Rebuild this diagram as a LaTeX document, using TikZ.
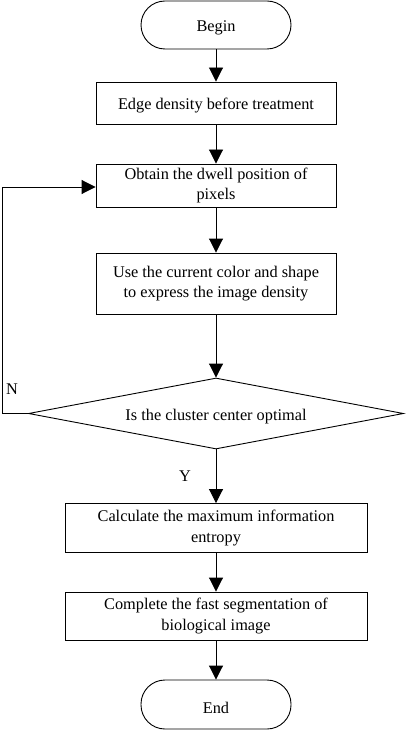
\documentclass[tikz,border=0pt]{standalone}
\usepackage{fontspec}
\setmainfont{Liberation Serif}
\usetikzlibrary{arrows.meta,shapes.geometric}
\begin{document}
\begin{tikzpicture}[x=1pt,y=-1pt,
  base/.style={draw=black,line width=0.9pt,align=center,inner sep=0pt,
    font=\fontsize{16.3}{20.5}\selectfont,
    execute at begin node={\rule{0pt}{17.5pt}}},
  term/.style={base,rounded corners=24pt,minimum width=150pt,minimum height=48pt},
  proc/.style={base,rectangle,minimum width=240pt},
  wproc/.style={base,rectangle,minimum width=302pt},
  dec/.style={base,diamond,shape aspect=5.28,minimum width=375pt,minimum height=71pt},
  arr/.style={line width=0.9pt,-{Triangle[width=14pt,length=14pt]}},
  lbl/.style={font=\fontsize{16.3}{20.5}\selectfont,inner sep=0pt}]
\useasboundingbox (0,0) rectangle (406,730);
\node[term] (begin) at (216,25) {Begin};
\node[proc,minimum height=42pt] (b1) at (216,103) {Edge density before treatment};
\node[proc,minimum height=43pt] (b2) at (216,185.5) {Obtain the dwell position of\\pixels};
\node[proc,minimum height=61pt] (b3) at (216,283.5) {Use the current color and shape\\to express the image density};
\node[dec] (d) at (216,413.5) {Is the cluster center optimal};
\node[wproc,minimum height=49pt] (b4) at (216,528) {Calculate the maximum information\\entropy};
\node[wproc,minimum height=48pt] (b5) at (216,616) {Complete the fast segmentation of\\biological image};
\node[term,minimum height=49pt] (end) at (216,704.5) {End};
\coordinate (c1) at (2,413.5);
\coordinate (c2) at (2,187);
\draw[arr] (begin) -- (b1);
\draw[arr] (b1) -- (b2);
\draw[arr] (b2) -- (b3);
\draw[arr] (b3) -- (d);
\draw[arr] (d) -- (b4);
\draw[arr] (b4) -- (b5);
\draw[arr] (b5) -- (end);
\draw[arr] (d.west) -- (c1) -- (c2) -- (b2.west |- c2);
\node[lbl] (n) at (12,389) {N};
\node[lbl] (y) at (185,476) {Y};
\end{tikzpicture}
\end{document}
